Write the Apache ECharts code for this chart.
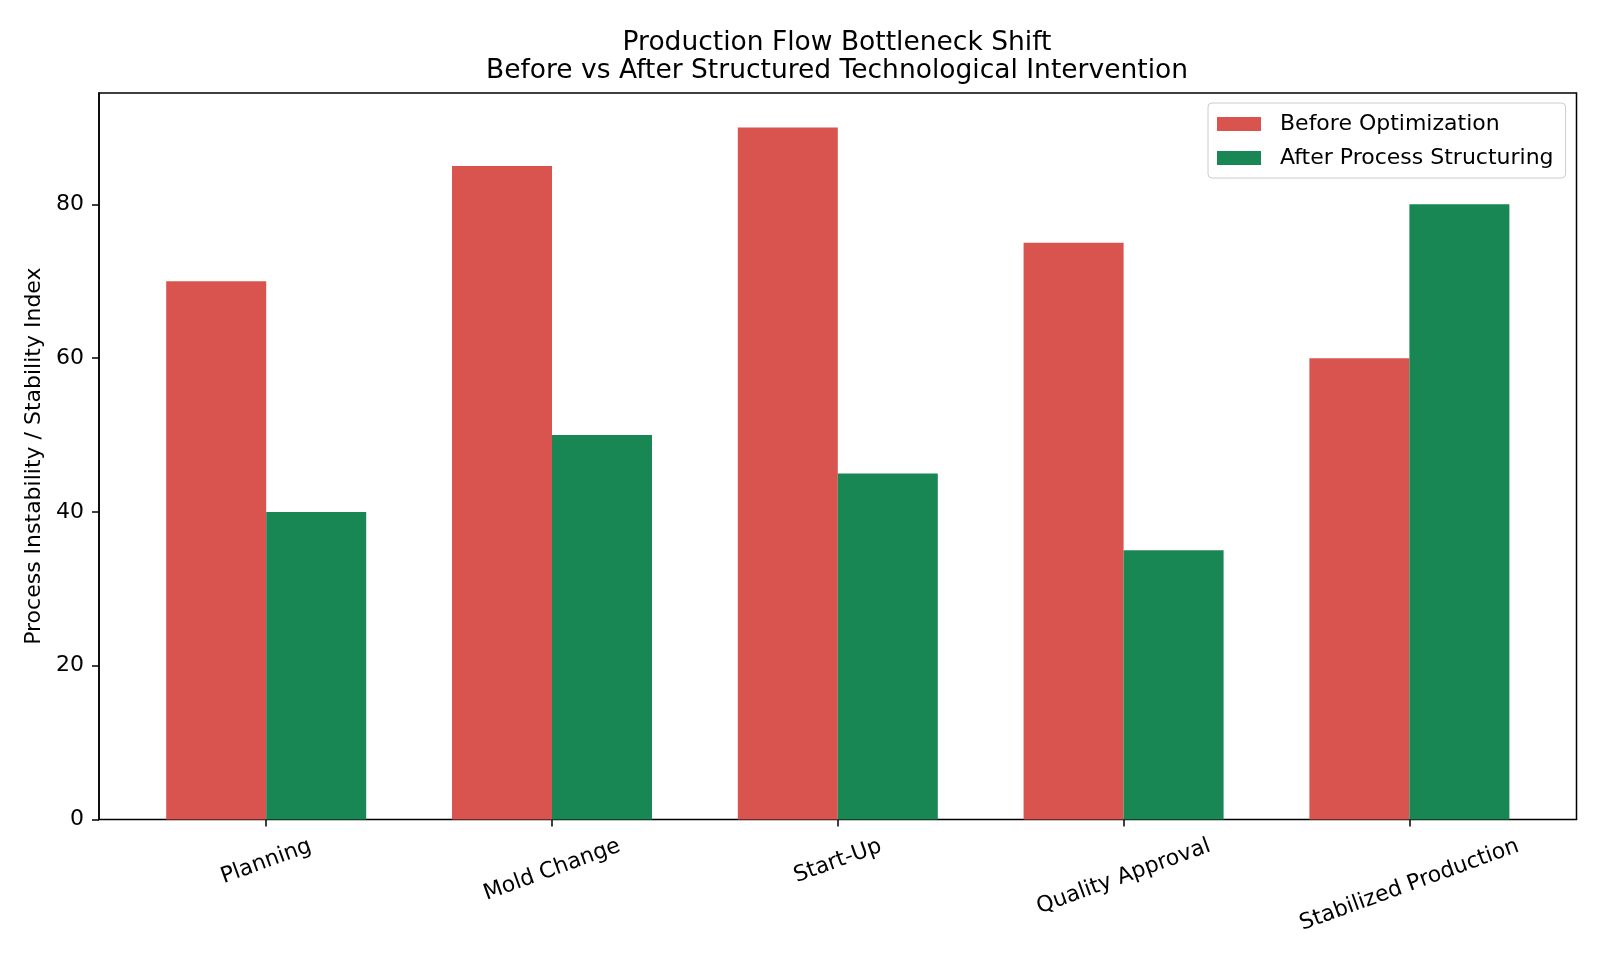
<!DOCTYPE html>
<html>
<head>
<meta charset="utf-8">
<script src="https://cdn.jsdelivr.net/npm/echarts@6/dist/echarts.min.js"></script>
<style>
html,body{margin:0;padding:0;background:#fff;}
#chart{width:1600px;height:960px;}
</style>
</head>
<body>
<div id="chart"></div>
<script>
const categories = ['Planning', 'Mold Change', 'Start-Up', 'Quality Approval', 'Stabilized Production'];
const beforeValues = [70, 85, 90, 75, 60];
const afterValues = [40, 50, 45, 35, 80];
const seriesNames = ['Before Optimization', 'After Process Structuring'];
const yTicks = [0, 20, 40, 60, 80];

const FONT = '"DejaVu Sans", sans-serif';
const LABEL_SIZE = 22;
const LABEL_LH = 22;
const LABEL_MARGIN = 10;

// emulate matplotlib rotated-label placement: rotated bbox centred on tick, top just below axis
const ctx = document.createElement('canvas').getContext('2d');
ctx.font = LABEL_SIZE + 'px "DejaVu Sans"';
const catItems = categories.map(function (c) {
  const w = ctx.measureText(c).width;
  const b = (26.1 - LABEL_MARGIN + 0.171 * w) / 1.064;   // local vertical offset of text centre
  const padTop = Math.max(0, b - LABEL_LH / 2);
  const padRight = 2 * 0.364 * b;
  return {
    value: c,
    textStyle: {
      align: 'center',
      verticalAlign: 'top',
      lineHeight: LABEL_LH,
      padding: [padTop, padRight, 0, 0]
    }
  };
});

const chart = echarts.init(document.getElementById('chart'), null, { renderer: 'canvas' });
chart.setOption({
  animation: false,
  backgroundColor: '#fff',
  title: {
    text: 'Production Flow Bottleneck Shift\nBefore vs After Structured Technological Intervention',
    left: 832,
    top: 24,
    textAlign: 'center',
    textStyle: { fontFamily: FONT, fontSize: 26.5, fontWeight: 'normal', color: '#000', lineHeight: 28 }
  },
  legend: {
    orient: 'vertical',
    left: 1208,
    top: 103,
    padding: [10, 12, 9, 9],
    itemWidth: 44,
    itemHeight: 14,
    itemGap: 12,
    icon: 'rect',
    borderColor: '#cccccc',
    borderWidth: 1,
    borderRadius: 4,
    backgroundColor: '#ffffff',
    textStyle: { fontFamily: FONT, fontSize: 22, lineHeight: 22, color: '#000', padding: [0, 0, 0, 14] },
    data: seriesNames
  },
  grid: [
    { left: 123.3, right: 47.7, top: 92.9, bottom: 140.6 },
    { left: 99, right: 23.5, top: 92.9, bottom: 140.6, show: true, borderColor: '#000', borderWidth: 1.5, backgroundColor: 'transparent' }
  ],
  xAxis: [
    {
      type: 'category',
      gridIndex: 0,
      data: catItems,
      axisLine: { show: false },
      axisTick: { show: true, alignWithLabel: true, length: 7, lineStyle: { color: '#000', width: 1.5 } },
      axisLabel: { interval: 0, rotate: 20, margin: LABEL_MARGIN, fontSize: LABEL_SIZE, lineHeight: LABEL_LH, fontFamily: FONT, color: '#000' },
      splitLine: { show: false }
    },
    { type: 'value', gridIndex: 1, show: false }
  ],
  yAxis: [
    {
      type: 'value',
      gridIndex: 0,
      min: 0,
      max: 94.5,
      offset: 24.3,
      name: 'Process Instability / Stability Index',
      nameLocation: 'middle',
      nameGap: 49,
      nameTextStyle: { fontFamily: FONT, fontSize: 22, color: '#000' },
      axisLine: { show: true, lineStyle: { color: '#000', width: 1.5 } },
      axisTick: { show: true, length: 7, customValues: yTicks, lineStyle: { color: '#000', width: 1.5 } },
      axisLabel: { customValues: yTicks, margin: 15, fontSize: 22, fontFamily: FONT, color: '#000' },
      splitLine: { show: false }
    },
    { type: 'value', gridIndex: 1, show: false }
  ],
  series: [
    {
      name: seriesNames[0], type: 'bar', xAxisIndex: 0, yAxisIndex: 0,
      data: beforeValues, barWidth: 100, barGap: '0%',
      itemStyle: { color: '#d9534f' }, silent: true
    },
    {
      name: seriesNames[1], type: 'bar', xAxisIndex: 0, yAxisIndex: 0,
      data: afterValues, barWidth: 100, barGap: '0%',
      itemStyle: { color: '#198754' }, silent: true
    }
  ]
});
</script>
</body>
</html>
